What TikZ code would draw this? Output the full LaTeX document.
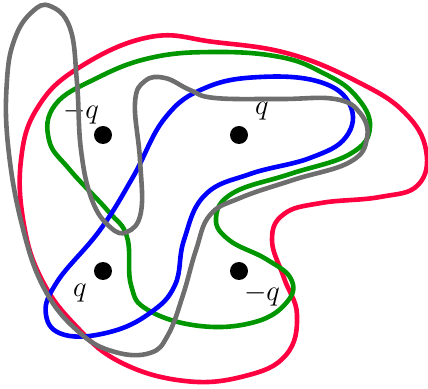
\documentclass[tikz,border=0pt]{standalone}
\definecolor{loopred}{RGB}{255,0,64}
\definecolor{loopgreen}{RGB}{0,150,0}
\definecolor{loopblue}{RGB}{0,0,255}
\definecolor{loopgray}{RGB}{110,110,110}
\begin{document}
\begin{tikzpicture}[x=0.5pt, y=-0.5pt,
		loop/.style={line width=2.3pt, line join=round},
		charge/.style={circle, fill=black, inner sep=0pt, minimum size=9pt},
		lab/.style={inner sep=0pt, font=\fontsize{15}{18}\selectfont}]
		\useasboundingbox (0,0) rectangle (428,389);
		
		% Charges
		\node[charge] (tl) at (103,135) {};
		\node[charge] (tr) at (239,135) {};
		\node[charge] (bl) at (103,271) {};
		\node[charge] (br) at (239,271) {};
		\node[lab] (ltl) at (81,113) {$-q$};
		\node[lab] (ltr) at (262,111) {$q$};
		\node[lab] (lbl) at (80,293) {$q$};
		\node[lab] (lbr) at (262,295) {$-q$};
		
		% Red loop
		\draw[loop, loopred] plot[smooth cycle, tension=0.7] coordinates {(150,37) (80,67) (38,107) (21,160) (24,225) (42,280) (75,325) (120,362) (185,381) (245,376) (286,355) (297,315) (284,278) (272,240) (284,214) (321,203) (380,197) (418,185) (426,150) (405,113) (360,83) (290,54) (214,42)};
		
		% Green loop
		\draw[loop, loopgreen] plot[smooth cycle, tension=0.7] coordinates {(214,52) (150,58) (95,79) (55,105) (49,140) (70,170) (108,211) (127,237) (131,285) (148,310) (200,326) (255,322) (287,302) (291,279) (266,259) (229,240) (216,218) (233,193) (290,174) (350,154) (370,127) (355,95) (323,73) (280,57)};
		
		% Blue loop
		\draw[loop, loopblue] plot[smooth cycle, tension=0.7] coordinates {(57,282) (100,230) (133,177) (165,118) (205,88) (260,77) (320,82) (350,105) (346,137) (310,158) (250,174) (205,195) (184,240) (175,285) (150,313) (110,332) (65,335) (46,315)};
		
		% Gray loop
		\draw[loop, loopgray] plot[smooth cycle, tension=0.7] coordinates {(50,6) (70,28) (77,83) (81,150) (92,200) (110,227) (127,232) (141,212) (140,160) (135,103) (145,81) (165,78) (190,90) (215,98) (280,99) (335,99) (360,113) (367,138) (350,162) (293,180) (240,198) (210,215) (196,250) (183,295) (168,335) (150,353) (115,352) (80,333) (45,290) (22,225) (8,145) (7,80) (15,38) (32,12)};
	\end{tikzpicture}
\end{document}
